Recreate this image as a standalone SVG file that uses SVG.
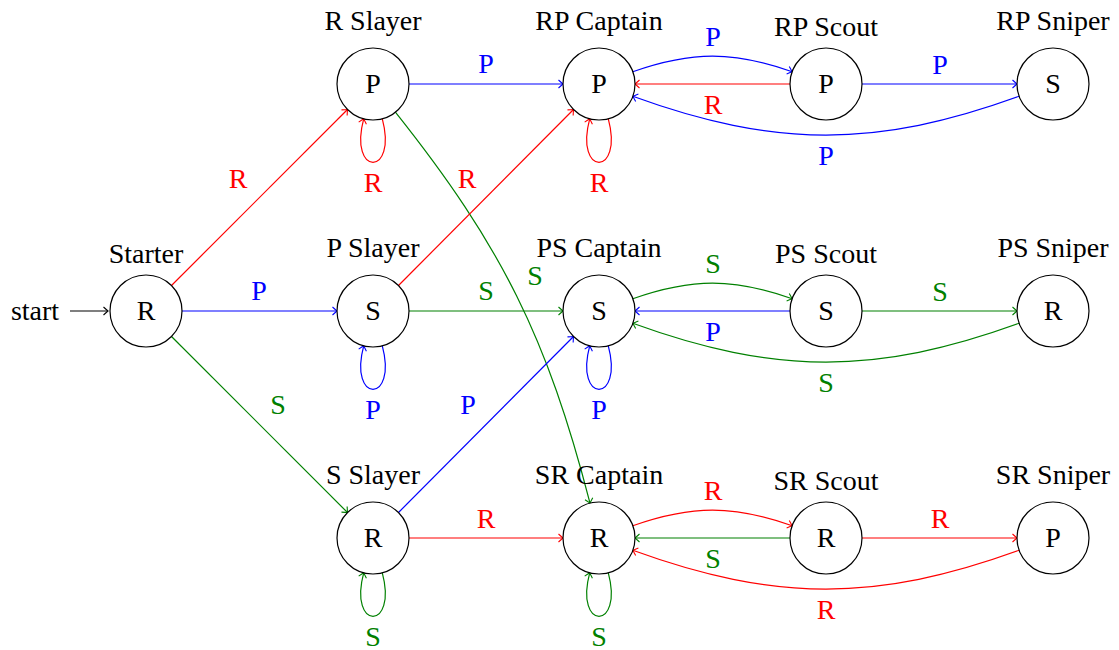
<svg xmlns="http://www.w3.org/2000/svg" width="1119" height="650" viewBox="0 0 1119 650">
<style>
text{font-family:"Liberation Serif","Times New Roman",serif;font-size:28px;text-anchor:middle}
.node circle{fill:#fff;stroke:#000;stroke-width:1.2}
.e{fill:none;stroke-width:1.2}
.r{stroke:#ff0000}.b{stroke:#0000ff}.g{stroke:#008000}.k{stroke:#000}
.tr{fill:#ff0000}.tb{fill:#0000ff}.tg{fill:#008000}
.r{marker-end:url(#aR)}.b{marker-end:url(#aB)}.g{marker-end:url(#aG)}.k{marker-end:url(#aK)}
</style>
<defs>
<marker id="aR" markerUnits="userSpaceOnUse" orient="auto" refX="0" refY="0" markerWidth="10" markerHeight="10" overflow="visible"><path d="M-4.5,-4 Q-1.2,-1 0,0 Q-1.2,1 -4.5,4" fill="none" stroke="#ff0000" stroke-width="1.1"/></marker>
<marker id="aB" markerUnits="userSpaceOnUse" orient="auto" refX="0" refY="0" markerWidth="10" markerHeight="10" overflow="visible"><path d="M-4.5,-4 Q-1.2,-1 0,0 Q-1.2,1 -4.5,4" fill="none" stroke="#0000ff" stroke-width="1.1"/></marker>
<marker id="aG" markerUnits="userSpaceOnUse" orient="auto" refX="0" refY="0" markerWidth="10" markerHeight="10" overflow="visible"><path d="M-4.5,-4 Q-1.2,-1 0,0 Q-1.2,1 -4.5,4" fill="none" stroke="#008000" stroke-width="1.1"/></marker>
<marker id="aK" markerUnits="userSpaceOnUse" orient="auto" refX="0" refY="0" markerWidth="10" markerHeight="10" overflow="visible"><path d="M-4.5,-4 Q-1.2,-1 0,0 Q-1.2,1 -4.5,4" fill="none" stroke="#000" stroke-width="1.1"/></marker>
</defs>
<g id="connectors">
<text x="35" y="320">start</text>
<path class="e k" d="M70,311 L108,311"/>
<!-- from Starter -->
<path class="e r" d="M171.5,285.5 L347.5,109.5"/><text class="tr" x="238" y="188">R</text>
<path class="e b" d="M182,311 L337,311"/><text class="tb" x="259" y="300">P</text>
<path class="e g" d="M171.5,336.5 L347.5,512.5"/><text class="tg" x="278" y="414">S</text>
<!-- Slayers -->
<path class="e r" d="M382.3,118.8 C397.8,176.8 348.2,176.8 363.7,118.8"/><text class="tr" x="373" y="192">R</text>
<path class="e b" d="M409,84 L563,84"/><text class="tb" x="486" y="73">P</text>
<path class="e g" d="M395.4,112.2 C501.8,246 547.2,337.6 590,503.1"/><text class="tg" x="535" y="285">S</text>
<path class="e r" d="M398.5,285.5 L573.5,109.5"/><text class="tr" x="467" y="188">R</text>
<path class="e g" d="M409,311 L563,311"/><text class="tg" x="486" y="300">S</text>
<path class="e b" d="M382.3,345.8 C397.8,403.8 348.2,403.8 363.7,345.8"/><text class="tb" x="373" y="419">P</text>
<path class="e b" d="M398.5,512.5 L573.5,336.5"/><text class="tb" x="468" y="414">P</text>
<path class="e r" d="M409,538 L563,538"/><text class="tr" x="486" y="528">R</text>
<path class="e g" d="M382.3,572.8 C397.8,630.8 348.2,630.8 363.7,572.8"/><text class="tg" x="373" y="646">S</text>
<!-- RP row -->
<path class="e r" d="M608.3,118.8 C623.8,176.8 574.2,176.8 589.7,118.8"/><text class="tr" x="599" y="192">R</text>
<path class="e b" d="M632.8,71.7 C692,50.9 733,50.9 792.2,71.7"/><text class="tb" x="713" y="46">P</text>
<path class="e r" d="M790,84 L635,84"/><text class="tr" x="713" y="114">R</text>
<path class="e b" d="M862,84 L1017,84"/><text class="tb" x="940" y="74">P</text>
<path class="e b" d="M1019.2,96.3 C877,148 775,148 632.8,96.3"/><text class="tb" x="826" y="165">P</text>
<!-- PS row -->
<path class="e b" d="M608.3,345.8 C623.8,403.8 574.2,403.8 589.7,345.8"/><text class="tb" x="599" y="419">P</text>
<path class="e g" d="M632.8,298.7 C692,277.9 733,277.9 792.2,298.7"/><text class="tg" x="713" y="273">S</text>
<path class="e b" d="M790,311 L635,311"/><text class="tb" x="713" y="341">P</text>
<path class="e g" d="M862,311 L1017,311"/><text class="tg" x="940" y="301">S</text>
<path class="e g" d="M1019.2,323.3 C877,375 775,375 632.8,323.3"/><text class="tg" x="826" y="392">S</text>
<!-- SR row -->
<path class="e g" d="M608.3,572.8 C623.8,630.8 574.2,630.8 589.7,572.8"/><text class="tg" x="599" y="646">S</text>
<path class="e r" d="M632.8,525.7 C692,504.9 733,504.9 792.2,525.7"/><text class="tr" x="713" y="500">R</text>
<path class="e g" d="M790,538 L635,538"/><text class="tg" x="713" y="568">S</text>
<path class="e r" d="M862,538 L1017,538"/><text class="tr" x="940" y="528">R</text>
<path class="e r" d="M1019.2,550.3 C877,602 775,602 632.8,550.3"/><text class="tr" x="826" y="619">R</text>
</g>
<g id="starter" class="node"><circle cx="146" cy="311" r="36"/><text x="146" y="320">R</text><text x="146" y="263">Starter</text></g>
<g id="r_slayer" class="node"><circle cx="373" cy="84" r="36"/><text x="373" y="93">P</text><text x="373" y="30">R Slayer</text></g>
<g id="p_slayer" class="node"><circle cx="373" cy="311" r="36"/><text x="373" y="320">S</text><text x="373" y="257">P Slayer</text></g>
<g id="s_slayer" class="node"><circle cx="373" cy="538" r="36"/><text x="373" y="547">R</text><text x="373" y="484">S Slayer</text></g>
<g id="rp_captain" class="node"><circle cx="599" cy="84" r="36"/><text x="599" y="93">P</text><text x="599" y="30">RP Captain</text></g>
<g id="ps_captain" class="node"><circle cx="599" cy="311" r="36"/><text x="599" y="320">S</text><text x="599" y="257">PS Captain</text></g>
<g id="sr_captain" class="node"><circle cx="599" cy="538" r="36"/><text x="599" y="547">R</text><text x="599" y="484">SR Captain</text></g>
<g id="rp_scout" class="node"><circle cx="826" cy="84" r="36"/><text x="826" y="93">P</text><text x="826" y="36">RP Scout</text></g>
<g id="ps_scout" class="node"><circle cx="826" cy="311" r="36"/><text x="826" y="320">S</text><text x="826" y="263">PS Scout</text></g>
<g id="sr_scout" class="node"><circle cx="826" cy="538" r="36"/><text x="826" y="547">R</text><text x="826" y="490">SR Scout</text></g>
<g id="rp_sniper" class="node"><circle cx="1053" cy="84" r="36"/><text x="1053" y="93">S</text><text x="1053" y="30">RP Sniper</text></g>
<g id="ps_sniper" class="node"><circle cx="1053" cy="311" r="36"/><text x="1053" y="320">R</text><text x="1053" y="257">PS Sniper</text></g>
<g id="sr_sniper" class="node"><circle cx="1053" cy="538" r="36"/><text x="1053" y="547">P</text><text x="1053" y="484">SR Sniper</text></g>
</svg>
